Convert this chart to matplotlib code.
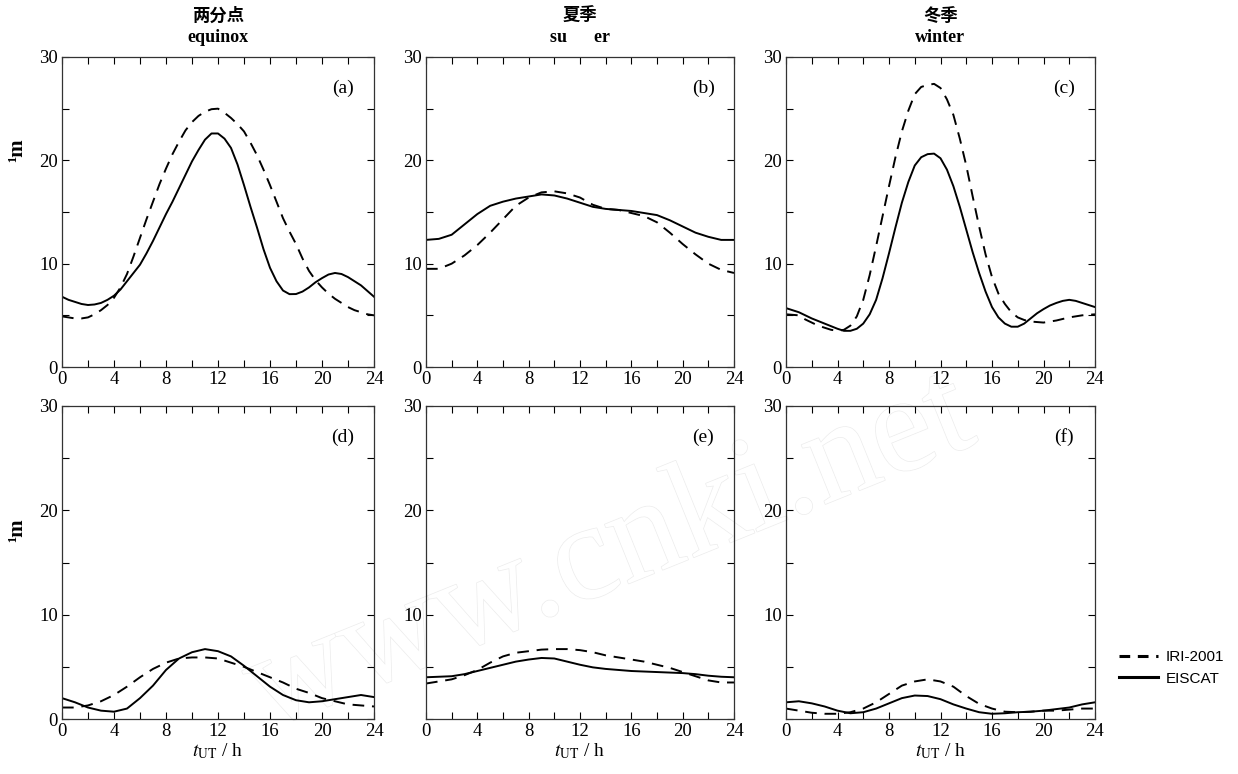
import matplotlib
matplotlib.use("Agg")
import matplotlib.pyplot as plt
import matplotlib.patheffects as pe
from matplotlib.ticker import MultipleLocator
from matplotlib.lines import Line2D

plt.rcParams["mathtext.fontset"] = "stix"

hours = list(range(25))
half_hours = [0, 0.5, 1, 1.5, 2, 2.5, 3, 3.5, 4, 4.5, 5, 5.5, 6, 6.5, 7, 7.5, 8, 8.5,
              9, 9.5, 10, 10.5, 11, 11.5, 12, 12.5, 13, 13.5, 14, 14.5, 15, 15.5,
              16, 16.5, 17, 17.5, 18, 18.5, 19, 19.5, 20, 20.5, 21, 21.5, 22, 22.5,
              23, 23.5, 24]

iri_a = [4.9, 4.8, 4.7, 4.7, 4.8, 5.1, 5.5, 6.0, 6.7, 7.7, 9.0, 10.7, 12.5, 14.3,
         16.0, 17.7, 19.2, 20.6, 21.8, 22.9, 23.7, 24.3, 24.7, 24.95, 25.0, 24.6,
         24.1, 23.5, 22.8, 21.7, 20.5, 19.1, 17.6, 16.0, 14.4, 13.1, 11.9, 10.5,
         9.3, 8.4, 7.7, 7.1, 6.6, 6.2, 5.8, 5.5, 5.3, 5.1, 5.0]
eis_a = [6.8, 6.5, 6.3, 6.1, 6.0, 6.05, 6.2, 6.5, 6.9, 7.5, 8.3, 9.1, 9.9, 11.0,
         12.2, 13.5, 14.8, 16.0, 17.3, 18.6, 19.9, 21.0, 22.0, 22.6, 22.6, 22.1,
         21.2, 19.6, 17.6, 15.5, 13.5, 11.4, 9.6, 8.3, 7.4, 7.05, 7.06, 7.3,
         7.7, 8.2, 8.6, 8.95, 9.1, 9.0, 8.7, 8.3, 7.9, 7.35, 6.8]
iri_b = [9.5, 9.5, 10.0, 10.8, 11.8, 13.0, 14.3, 15.6, 16.4, 16.9, 17.0, 16.8, 16.4,
         15.7, 15.3, 15.2, 14.9, 14.6, 14.0, 13.0, 11.9, 10.9, 10.0, 9.4, 9.1]
eis_b = [12.3, 12.4, 12.8, 13.8, 14.8, 15.6, 16.0, 16.3, 16.5, 16.7, 16.6, 16.3, 15.9,
         15.5, 15.3, 15.2, 15.1, 14.9, 14.7, 14.2, 13.6, 13.0, 12.6, 12.3, 12.3]
iri_c = [5.1, 5.05, 5.0, 4.6, 4.3, 4.0, 3.8, 3.6, 3.5, 3.6, 4.0, 4.9, 6.5, 8.9,
         11.7, 14.6, 17.5, 20.3, 22.8, 24.8, 26.4, 27.1, 27.3, 27.4, 27.0, 25.9,
         24.4, 22.1, 19.5, 16.5, 13.6, 10.9, 8.7, 7.1, 6.1, 5.3, 4.8, 4.55,
         4.4, 4.35, 4.3, 4.4, 4.5, 4.65, 4.8, 4.9, 5.0, 5.05, 5.1]
eis_c = [5.7, 5.5, 5.3, 5.0, 4.7, 4.45, 4.2, 3.95, 3.7, 3.5, 3.5, 3.7, 4.2, 5.1,
         6.5, 8.6, 11.0, 13.5, 15.9, 17.9, 19.5, 20.3, 20.6, 20.65, 20.2, 19.1,
         17.5, 15.5, 13.3, 11.1, 9.1, 7.3, 5.8, 4.8, 4.2, 3.9, 3.9, 4.2,
         4.7, 5.2, 5.6, 5.95, 6.2, 6.4, 6.5, 6.4, 6.2, 6.0, 5.8]
iri_d = [1.1, 1.1, 1.3, 1.7, 2.3, 3.1, 4.0, 4.8, 5.4, 5.8, 5.9, 5.9, 5.8,
         5.4, 5.0, 4.5, 4.0, 3.5, 2.9, 2.5, 2.0, 1.7, 1.4, 1.3, 1.2]
eis_d = [2.0, 1.6, 1.1, 0.8, 0.7, 1.0, 2.0, 3.2, 4.7, 5.8, 6.4, 6.7, 6.5,
         6.0, 5.1, 4.1, 3.1, 2.3, 1.8, 1.6, 1.7, 1.9, 2.1, 2.3, 2.1]
iri_e = [3.4, 3.6, 3.8, 4.2, 4.7, 5.4, 6.0, 6.35, 6.5, 6.65, 6.7, 6.7, 6.6,
         6.4, 6.1, 5.9, 5.7, 5.5, 5.2, 4.9, 4.5, 4.1, 3.7, 3.5, 3.5]
eis_e = [4.0, 4.05, 4.1, 4.3, 4.6, 4.9, 5.2, 5.5, 5.7, 5.85, 5.8, 5.5, 5.2,
         4.95, 4.8, 4.7, 4.6, 4.55, 4.5, 4.45, 4.4, 4.3, 4.15, 4.05, 4.0]
iri_f = [1.0, 0.8, 0.6, 0.5, 0.5, 0.65, 1.0, 1.6, 2.4, 3.2, 3.6, 3.8, 3.6,
         3.1, 2.2, 1.45, 1.0, 0.7, 0.65, 0.7, 0.8, 0.8, 0.9, 1.0, 1.0]
eis_f = [1.6, 1.7, 1.5, 1.2, 0.8, 0.55, 0.65, 1.0, 1.5, 2.0, 2.25, 2.2, 1.9,
         1.4, 1.0, 0.65, 0.5, 0.55, 0.65, 0.7, 0.8, 0.95, 1.1, 1.4, 1.6]

panel_labels = ["(a)", "(b)", "(c)", "(d)", "(e)", "(f)"]
titles_cn = ["两分点", "夏季", "冬季"]
titles_en = ["equinox", "su      er", "winter"]
xticks = [0, 4, 8, 12, 16, 20, 24]
yticks = [0, 10, 20, 30]
legend_labels = ["IRI-2001", "EISCAT"]

x_all = [half_hours, hours, half_hours, hours, hours, hours]
iri_all = [iri_a, iri_b, iri_c, iri_d, iri_e, iri_f]
eis_all = [eis_a, eis_b, eis_c, eis_d, eis_e, eis_f]

W, H = 1238, 774
fig = plt.figure(figsize=(W / 100, H / 100), dpi=100)

serif = ["Liberation Serif", "DejaVu Serif"]
cjk = ["Noto Sans CJK SC", "DejaVu Sans"]

# axes boxes in pixels: left, right, top, bottom
cols = [(62, 374), (426, 734), (786, 1095)]
rows = [(57, 367), (406, 719)]

dash = (6, 4)
lw = 1.4

for i in range(6):
    r, c = divmod(i, 3)
    l, rr = cols[c]
    t, b = rows[r]
    ax = fig.add_axes([l / W, 1 - b / H, (rr - l) / W, (b - t) / H])
    ax.patch.set_alpha(0)
    ax.plot(x_all[i], iri_all[i], color="black", lw=lw, dashes=dash)
    ax.plot(x_all[i], eis_all[i], color="black", lw=lw)
    ax.set_xlim(0, 24)
    ax.set_ylim(0, 30)
    ax.set_xticks(xticks)
    ax.xaxis.set_minor_locator(MultipleLocator(2))
    ax.set_yticks(yticks)
    if i in (4, 5):
        ax.set_yticklabels(["", "10", "20", "30"])
    ax.yaxis.set_minor_locator(MultipleLocator(5))
    ax.tick_params(which="both", direction="in", top=True, right=True,
                   length=5, width=0.8, labelsize=13.5, pad=3)
    ax.tick_params(which="minor", length=5)
    for lab in ax.get_xticklabels() + ax.get_yticklabels():
        lab.set_fontfamily(serif)
    for s in ax.spines.values():
        s.set_linewidth(0.9)
        s.set_color("#333333")
    ax.text(0.9, 0.9, panel_labels[i], transform=ax.transAxes, ha="center",
            va="center", fontsize=14, family=serif)
    if r == 1:
        ax.set_xlabel(r"$t_{\mathrm{UT}}$ / h", fontsize=14, family=serif, labelpad=1)
    if r == 0:
        cx = (l + rr) / 2 / W
        fig.text(cx, 1 - 16 / H, titles_cn[c], ha="center", va="center",
                 fontsize=12.5, fontweight="bold", family=cjk)
        fig.text(cx, 1 - 38 / H, titles_en[c], ha="center", va="center",
                 fontsize=13, fontweight="bold", family=serif)

# y labels
for yy in (150, 530):
    fig.text(17 / W, 1 - yy / H, "¹m", rotation=90, ha="center", va="center",
             fontsize=15, fontweight="bold", family=serif)

# legend
handles = [Line2D([], [], color="black", lw=2.2, dashes=(3.5, 2.5)),
           Line2D([], [], color="black", lw=2.2)]
fig.legend(handles, legend_labels, loc="center left",
           bbox_to_anchor=(1105 / W, 1 - 668 / H), frameon=False,
           prop={"family": ["Liberation Sans", "DejaVu Sans"], "size": 11},
           handlelength=2.6, handletextpad=0.5, labelspacing=0.5)

# watermark
fig.text(610 / W, 1 - 555 / H, "www.cnki.net", rotation=22, ha="center",
         va="center", fontsize=100, family=serif, color="white", zorder=-1,
         path_effects=[pe.Stroke(linewidth=1.0, foreground="#ececec"), pe.Normal()])

fig.savefig("out.png", dpi=100)
